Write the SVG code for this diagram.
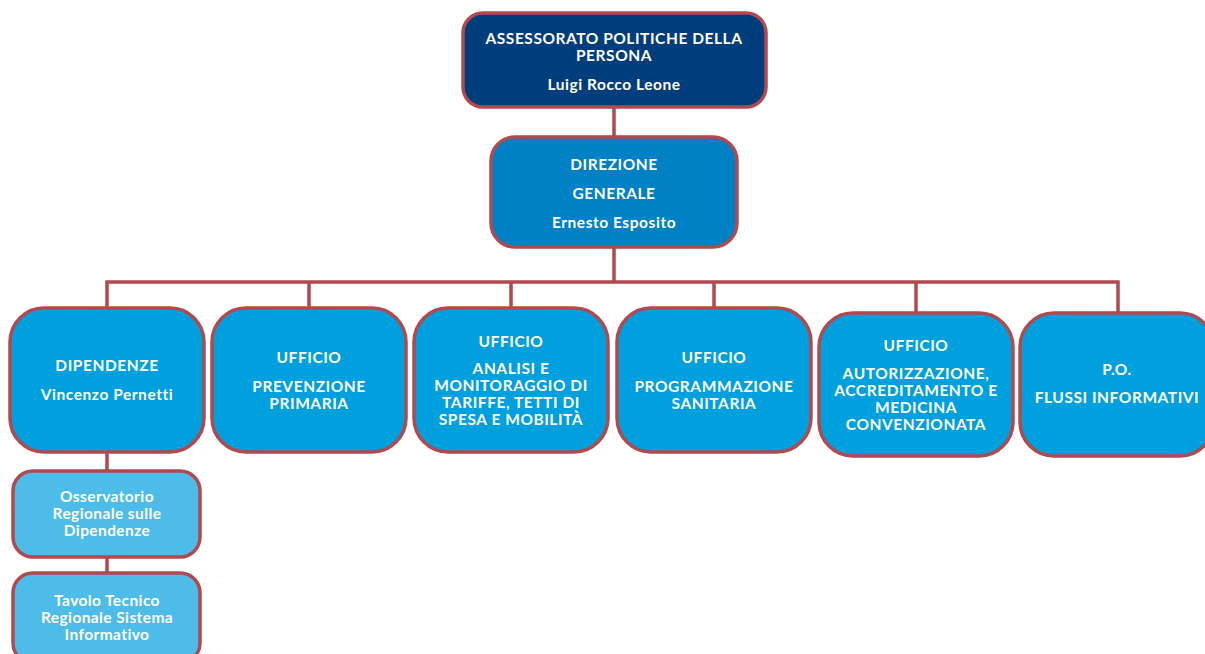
<svg xmlns="http://www.w3.org/2000/svg" width="1205" height="654" viewBox="0 0 1205 654">
<style>
.box{stroke:#b04a4e;stroke-width:3.5}
.l0{fill:#003d7d}
.l1{fill:#0080c5}
.l2{fill:#00a0de}
.l3{fill:#4dbce9}
.conn{stroke:#b04a4e;stroke-width:3.5;fill:none}
text{font-family:Lato,"Liberation Sans",sans-serif;font-weight:700;font-size:15.5px;letter-spacing:0.55px;fill:#ffffff;text-anchor:middle}
.sm{letter-spacing:0.4px}
</style>
<rect width="1205" height="654" fill="#ffffff"/>
<g id="connectors">
<path class="conn" d="M614 107V137"/>
<path class="conn" d="M614 247V282"/>
<path class="conn" d="M107 308V282H1118V313"/>
<path class="conn" d="M309 282V308M511 282V308M714 282V308M916 282V313"/>
<path class="conn" d="M107 452V471M107 557V573"/>
</g>
<g id="n-assessorato">
<rect class="box l0" x="463" y="13" width="303" height="94" rx="20"/>
<text x="614" y="44">ASSESSORATO POLITICHE DELLA</text>
<text x="614" y="61">PERSONA</text>
<text x="614" y="90">Luigi Rocco Leone</text>
</g>
<g id="n-direzione">
<rect class="box l1" x="491" y="137" width="246" height="110" rx="24"/>
<text x="614" y="170">DIREZIONE</text>
<text x="614" y="199">GENERALE</text>
<text x="614" y="228">Ernesto Esposito</text>
</g>
<g id="n-dipendenze">
<rect class="box l2" x="10" y="308" width="194" height="144" rx="34"/>
<text x="107" y="371">DIPENDENZE</text>
<text x="107" y="400">Vincenzo Pernetti</text>
</g>
<g id="n-prevenzione">
<rect class="box l2" x="212" y="308" width="194" height="144" rx="34"/>
<text x="309" y="363">UFFICIO</text>
<text x="309" y="392">PREVENZIONE</text>
<text x="309" y="409">PRIMARIA</text>
</g>
<g id="n-analisi">
<rect class="box l2" x="414" y="308" width="194" height="144" rx="34"/>
<text x="511" y="347">UFFICIO</text>
<text x="511" y="374">ANALISI E</text>
<text x="511" y="391">MONITORAGGIO DI</text>
<text x="511" y="408">TARIFFE, TETTI DI</text>
<text x="511" y="425">SPESA E MOBILITÀ</text>
</g>
<g id="n-programmazione">
<rect class="box l2" x="617" y="308" width="194" height="144" rx="34"/>
<text x="714" y="363">UFFICIO</text>
<text x="714" y="392">PROGRAMMAZIONE</text>
<text x="714" y="409">SANITARIA</text>
</g>
<g id="n-autorizzazione">
<rect class="box l2" x="819" y="313" width="194" height="143" rx="34"/>
<text x="916" y="351">UFFICIO</text>
<text x="916" y="379">AUTORIZZAZIONE,</text>
<text x="916" y="396">ACCREDITAMENTO E</text>
<text x="916" y="413">MEDICINA</text>
<text x="916" y="430">CONVENZIONATA</text>
</g>
<g id="n-flussi">
<rect class="box l2" x="1020" y="313" width="194" height="143" rx="34"/>
<text x="1117" y="375">P.O.</text>
<text x="1117" y="403">FLUSSI INFORMATIVI</text>
</g>
<g id="n-osservatorio">
<rect class="box l3" x="13" y="471" width="187" height="86" rx="20"/>
<text class="sm" x="107" y="502">Osservatorio</text>
<text class="sm" x="107" y="519">Regionale sulle</text>
<text class="sm" x="107" y="536">Dipendenze</text>
</g>
<g id="n-tavolo">
<rect class="box l3" x="13" y="573" width="187" height="90" rx="20"/>
<text class="sm" x="107" y="606">Tavolo Tecnico</text>
<text class="sm" x="107" y="623">Regionale Sistema</text>
<text class="sm" x="107" y="640">Informativo</text>
</g>
</svg>
